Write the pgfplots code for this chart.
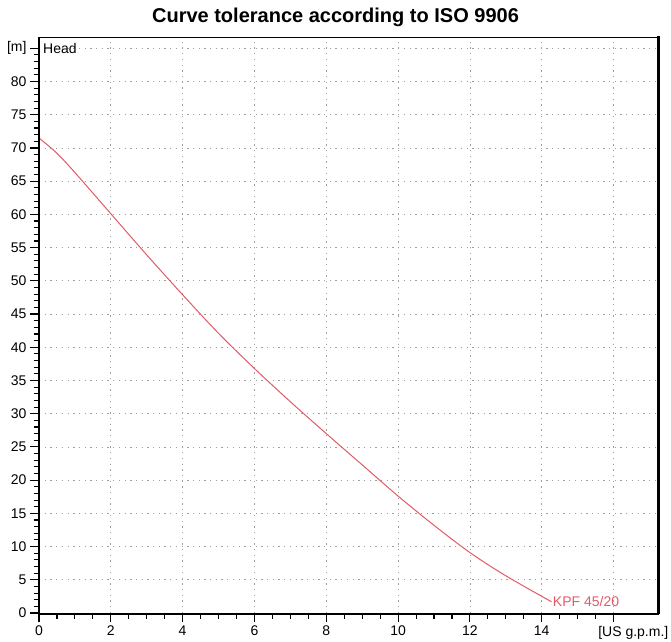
\documentclass[border=0pt]{standalone}
\usepackage{fontspec}
\setmainfont{Liberation Sans}
\usepackage{pgfplots}
\pgfplotsset{compat=1.18}
\definecolor{curvecol}{RGB}{226,90,104}
\begin{document}
\begin{tikzpicture}
\path[use as bounding box] (-39pt,-28pt) rectangle (632pt,613pt);
\begin{axis}[
  at={(0pt,0pt)}, anchor=south west,
  scale only axis, width=618pt, height=576pt,
  xmin=0, xmax=17.21, ymin=0, ymax=86.7,
  xtick={0,2,4,6,8,10,12,14,16},
  xticklabels={0,2,4,6,8,10,12,14,{}},
  minor x tick num=3,
  ytick={0,5,10,15,20,25,30,35,40,45,50,55,60,65,70,75,80,85},
  yticklabels={0,5,10,15,20,25,30,35,40,45,50,55,60,65,70,75,80,{[m]}},
  minor y tick num=4,
  xtick pos=bottom, ytick pos=left,
  tick align=outside,
  major tick length=9pt, minor tick length=5.5pt,
  every tick/.style={black, line width=1.1pt},
  grid=major,
  major grid style={gray!75, line width=0.7pt, dash pattern=on 1.3pt off 4.4pt},
  axis line style={line width=1pt},
  ticklabel style={font=\fontsize{14}{16}\selectfont},
  /pgf/number format/assume math mode=true,
  clip=false,
]
\addplot[curvecol, line width=1pt, smooth] coordinates {
(0,71.5) (0.5,69.2) (1,66.3) (2,60.1) (3,53.9) (4,47.9) (5,42.1) (6,36.8) (7,31.8)
(8,27.0) (9,22.3) (10,17.6) (11,13.2) (12,9.1) (13,5.6) (14.27,1.7)
};
\node[anchor=west, text=curvecol, font=\fontsize{14}{16}\selectfont, inner sep=1pt] at (axis cs:14.28,1.7) {KPF 45/20};
\node[anchor=west, font=\fontsize{14}{16}\selectfont, inner sep=1pt, xshift=3pt] at (axis cs:0,85) {Head};
\node[anchor=west, font=\fontsize{14}{16}\selectfont, inner sep=0pt, yshift=-20pt] at (axis cs:15.57,0) {[US g.p.m.]};
\end{axis}
\draw[line width=1.6pt] (0.3pt,0) -- (0.3pt,576pt);
\draw[line width=2.5pt] (-0.5pt,-0.8pt) -- (620pt,-0.8pt);
\draw[line width=2.5pt] (619.5pt,-0.8pt) -- (619.5pt,576.5pt);
\node[font=\bfseries\fontsize{20}{24}\selectfont] at (296.5pt,596pt) {Curve tolerance according to ISO 9906};
\end{tikzpicture}
\end{document}
